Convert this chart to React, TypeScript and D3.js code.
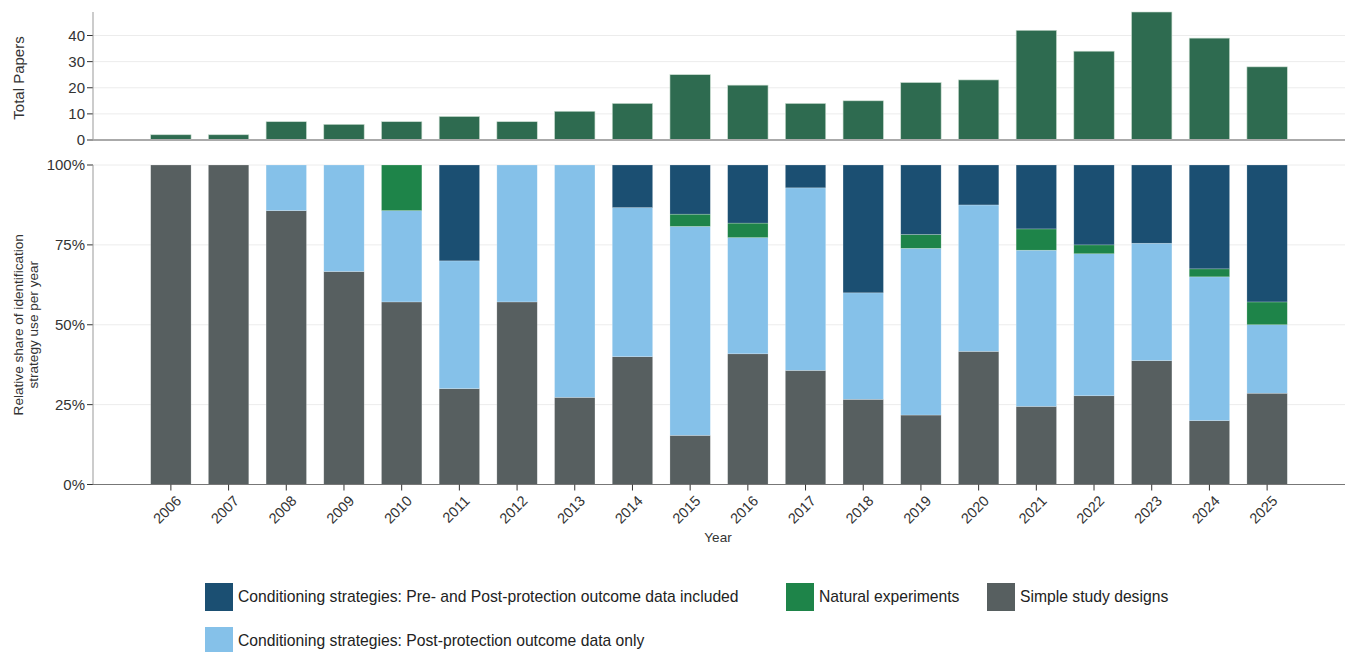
import React from "react";
import * as d3 from "d3";

// Publication years
const years = [
  "2006", "2007", "2008", "2009", "2010", "2011", "2012", "2013", "2014", "2015",
  "2016", "2017", "2018", "2019", "2020", "2021", "2022", "2023", "2024", "2025",
];

// Total number of papers per year
const totalPapers = [2, 2, 7, 6, 7, 9, 7, 11, 14, 25, 21, 14, 15, 22, 23, 42, 34, 49, 39, 28];

// Strategy use counts per year (stacked bottom to top)
const simpleDesigns = [2, 2, 6, 4, 4, 3, 4, 3, 6, 4, 9, 5, 4, 5, 10, 11, 10, 19, 8, 8];
const postOnly = [0, 0, 1, 2, 2, 4, 3, 8, 7, 17, 8, 8, 5, 12, 11, 22, 16, 18, 18, 6];
const naturalExp = [0, 0, 0, 0, 1, 0, 0, 0, 0, 1, 1, 0, 0, 1, 0, 3, 1, 0, 1, 2];
const prePost = [0, 0, 0, 0, 0, 3, 0, 0, 2, 4, 4, 1, 6, 5, 3, 9, 9, 12, 13, 12];

const topTicks = [0, 10, 20, 30, 40];
const shareTicks = [0, 0.25, 0.5, 0.75, 1];

const seriesKeys = ["simple", "post", "natural", "prepost"];
const seriesLabels: Record<string, string> = {
  prepost: "Conditioning strategies: Pre- and Post-protection outcome data included",
  natural: "Natural experiments",
  simple: "Simple study designs",
  post: "Conditioning strategies: Post-protection outcome data only",
};
const seriesColors: Record<string, string> = {
  prepost: "#1b4f72",
  natural: "#1e8449",
  simple: "#575f60",
  post: "#85c1e9",
};
const totalColor = "#2e6b50";

const W = 1346;
const H = 652;
const left = 93;
const right = 1345;
const topY0 = 140;
const topY1 = 12;
const botY0 = 484.5;
const botY1 = 165;
const FONT = "'Liberation Sans', Arial, Helvetica, sans-serif";

export default function App() {
  const x = d3
    .scaleBand<string>()
    .domain(years)
    .range([left, right])
    .paddingInner(0.3)
    .paddingOuter(1.0);

  const yTop = d3.scaleLinear().domain([0, 49]).range([topY0, topY1]);
  const yBot = d3.scaleLinear().domain([0, 1]).range([botY0, botY1]);

  const rows = years.map((yr, i) => {
    const tot = simpleDesigns[i] + postOnly[i] + naturalExp[i] + prePost[i];
    return {
      year: yr,
      simple: simpleDesigns[i] / tot,
      post: postOnly[i] / tot,
      natural: naturalExp[i] / tot,
      prepost: prePost[i] / tot,
    };
  });
  const stacked = d3.stack<any>().keys(seriesKeys)(rows);

  const bw = x.bandwidth();

  const legendItems = [
    { key: "prepost", x: 205, y: 583 },
    { key: "natural", x: 786, y: 583 },
    { key: "simple", x: 987, y: 583 },
    { key: "post", x: 205, y: 627 },
  ];

  return (
    <svg
      width={W}
      height={H}
      style={{ position: "absolute", left: 0, top: 0, background: "#fff" }}
      fontFamily={FONT}
    >
      {/* Top panel: total papers */}
      <g>
        {topTicks.map((t) => (
          <g key={"tg" + t}>
            {t > 0 && (
              <line x1={left} x2={right} y1={yTop(t)} y2={yTop(t)} stroke="#ececec" strokeWidth={1} />
            )}
            <line x1={left - 6} x2={left} y1={yTop(t)} y2={yTop(t)} stroke="#333" strokeWidth={1} />
            <text x={left - 8} y={yTop(t)} dy="0.35em" textAnchor="end" fontSize={15} fill="#333">
              {t}
            </text>
          </g>
        ))}
        {years.map((yr, i) => (
          <rect
            key={"tb" + yr}
            x={x(yr)}
            y={yTop(totalPapers[i])}
            width={bw}
            height={yTop(0) - yTop(totalPapers[i])}
            fill={totalColor}
            stroke="#c9dccf"
            strokeWidth={0.6}
          />
        ))}
        <line x1={left} x2={left} y1={topY1} y2={topY0} stroke="#999" strokeWidth={1} />
        <line x1={left} x2={right} y1={topY0} y2={topY0} stroke="#aaa" strokeWidth={2} />
        <text
          transform={`translate(24,${(topY0 + topY1) / 2 + 2}) rotate(-90)`}
          textAnchor="middle"
          fontSize={15}
          fill="#333"
        >
          Total Papers
        </text>
      </g>

      {/* Bottom panel: relative share of strategies */}
      <g>
        {shareTicks.map((t) => (
          <g key={"bg" + t}>
            {t > 0 && (
              <line x1={left} x2={right} y1={yBot(t)} y2={yBot(t)} stroke="#ececec" strokeWidth={1} />
            )}
            <line x1={left - 6} x2={left} y1={yBot(t)} y2={yBot(t)} stroke="#333" strokeWidth={1} />
            <text x={left - 8} y={yBot(t)} dy="0.35em" textAnchor="end" fontSize={15} fill="#333">
              {d3.format(".0%")(t)}
            </text>
          </g>
        ))}
        {stacked.map((s) => (
          <g key={s.key}>
            {s.map((d, i) =>
              d[1] - d[0] > 0 ? (
                <rect
                  key={s.key + years[i]}
                  x={x(years[i])}
                  y={yBot(d[1])}
                  width={bw}
                  height={yBot(d[0]) - yBot(d[1])}
                  fill={seriesColors[s.key]}
                  stroke="#ffffff"
                  strokeOpacity={0.35}
                  strokeWidth={0.6}
                />
              ) : null
            )}
          </g>
        ))}
        <line x1={left} x2={left} y1={botY1} y2={botY0} stroke="#999" strokeWidth={1} />
        <line x1={left} x2={right} y1={botY0} y2={botY0} stroke="#777" strokeWidth={1} />
        {years.map((yr) => {
          const cx = (x(yr) as number) + bw / 2;
          return (
            <g key={"xt" + yr}>
              <line x1={cx} x2={cx} y1={botY0} y2={botY0 + 6} stroke="#333" strokeWidth={1} />
              <text
                transform={`translate(${cx + 4},${botY0 + 10}) rotate(-45)`}
                textAnchor="end"
                dy="0.71em"
                fontSize={14.5}
                fill="#333"
              >
                {yr}
              </text>
            </g>
          );
        })}
        <text x={718} y={542} textAnchor="middle" fontSize={13.5} fill="#333">
          Year
        </text>
        <text
          transform={`translate(23,${(botY0 + botY1) / 2}) rotate(-90)`}
          textAnchor="middle"
          fontSize={13.6}
          fill="#333"
        >
          <tspan x={0} dy="0">Relative share of identification</tspan>
          <tspan x={0} dy="1.08em">strategy use per year</tspan>
        </text>
      </g>

      {/* Legend */}
      <g>
        {legendItems.map((l) => (
          <g key={"lg" + l.key}>
            <rect x={l.x} y={l.y} width={28} height={28} fill={seriesColors[l.key]} />
            <text x={l.x + 33} y={l.y + 14} dy="0.35em" fontSize={15.7} fill="#222">
              {seriesLabels[l.key]}
            </text>
          </g>
        ))}
      </g>
    </svg>
  );
}
